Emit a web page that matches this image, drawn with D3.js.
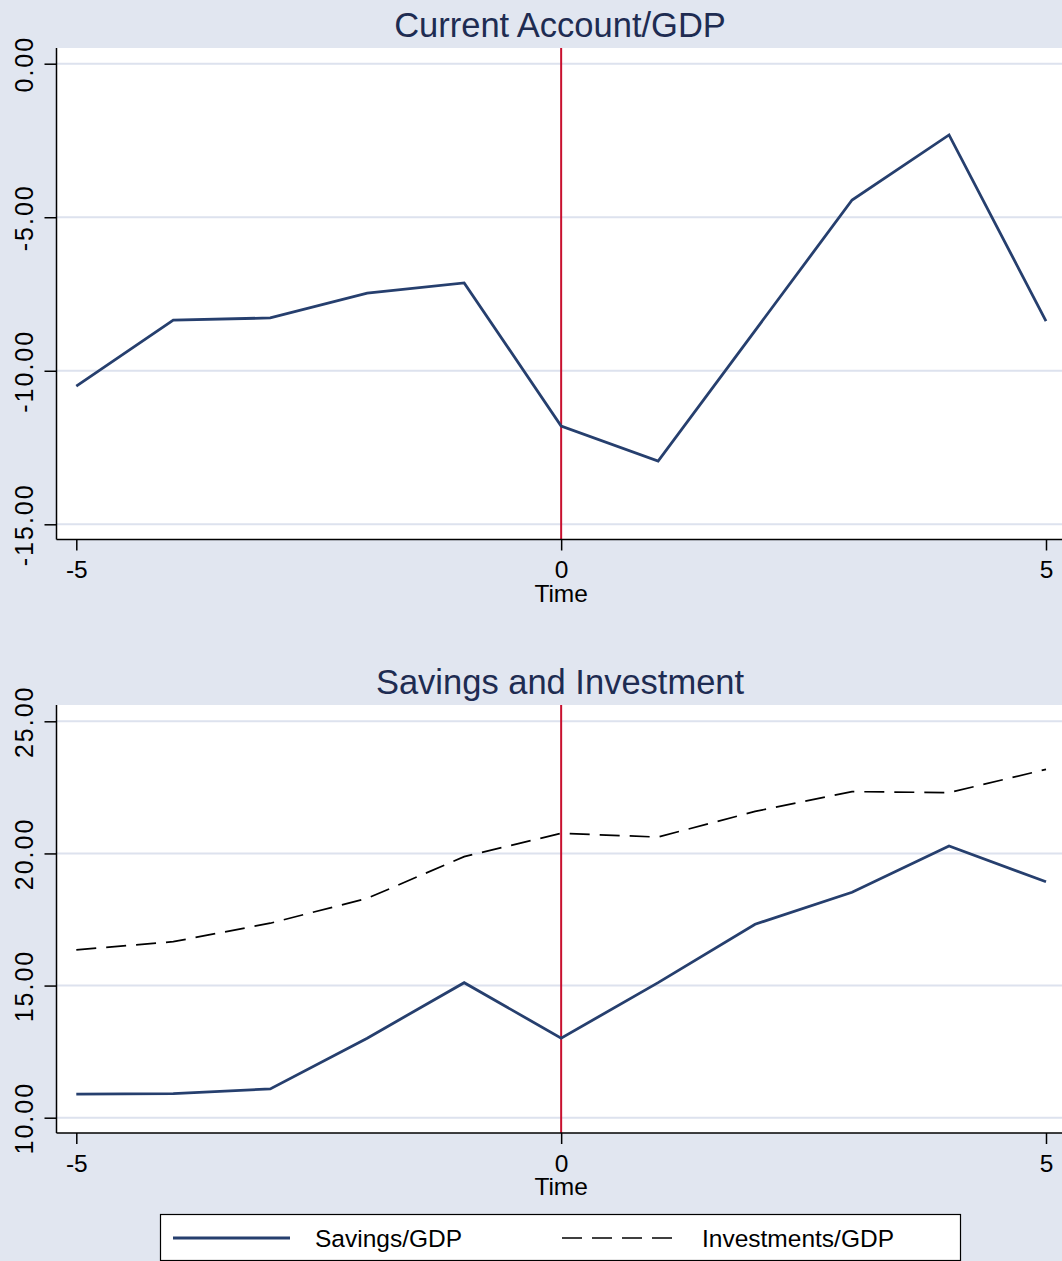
<!DOCTYPE html>
<html><head><meta charset="utf-8">
<script src="https://cdn.jsdelivr.net/npm/d3@7"></script>
<style>
html,body{margin:0;padding:0;background:#e1e6f0;}
svg{display:block;font-family:"Liberation Sans",Arial,sans-serif;}
</style></head>
<body>
<svg id="c" width="1062" height="1261"></svg>
<script>
const time = [-5,-4,-3,-2,-1,0,1,2,3,4,5];
const currentAccount = [-10.50,-8.35,-8.28,-7.47,-7.14,-11.80,-12.94,-8.69,-4.44,-2.32,-8.38];
const savings = [10.89,10.91,11.09,13.01,15.11,13.01,15.11,17.32,18.53,20.28,18.93];
const investments = [16.35,16.66,17.36,18.30,19.88,20.76,20.62,21.59,22.34,22.30,23.18];
const xTicks = [-5,0,5];
const yTicksTop = [0,-5,-10,-15];
const yTicksBottom = [10,15,20,25];
const titles = ["Current Account/GDP","Savings and Investment"];
const legendLabels = ["Savings/GDP","Investments/GDP"];

const svg = d3.select("#c");
const bg = "#e1e6f0", lineCol = "#263f6e", titleCol = "#1e2c52", gridCol = "#dde2ee", red = "#c8102e";
svg.append("rect").attr("width",1062).attr("height",1261).attr("fill",bg);

const x = d3.scaleLinear().domain([-5,5]).range([76.3,1046]);
const fmtY = d => d3.format(".2f")(d).replace("\u2212","-");
const fmtX = d => d3.format("d")(d).replace("\u2212","-");

function panel(opts){
  const {top,bottom,y,yTicks,title,titleY,series} = opts;
  const left = 56.5, right = 1062;
  const g = svg.append("g");
  g.append("rect").attr("x",left).attr("y",top).attr("width",right-left).attr("height",bottom-top).attr("fill","#fff");
  g.selectAll(".grid").data(yTicks).join("line")
    .attr("x1",left).attr("x2",right).attr("y1",d=>y(d)).attr("y2",d=>y(d))
    .attr("stroke",gridCol).attr("stroke-width",2);
  g.append("line").attr("x1",x(0)).attr("x2",x(0)).attr("y1",top).attr("y2",bottom)
    .attr("stroke",red).attr("stroke-width",2);
  series.forEach(s=>{
    const line = d3.line().x((d,i)=>x(time[i])).y(d=>y(d));
    g.append("path").datum(s.values).attr("d",line).attr("fill","none")
      .attr("stroke",s.color).attr("stroke-width",s.width)
      .attr("stroke-dasharray",s.dash||null).attr("stroke-linejoin","miter");
  });
  const ya = d3.axisLeft(y).tickValues(yTicks).tickSize(12).tickFormat(fmtY);
  const yg = g.append("g").attr("transform",`translate(${left},0)`).call(ya);
  yg.select(".domain").attr("d",`M0,${top}V${bottom}`).attr("stroke","#000").attr("stroke-width",1.5);
  yg.selectAll(".tick line").attr("stroke","#000").attr("stroke-width",1.5);
  yg.selectAll(".tick text").attr("x",0).attr("dy",0)
    .attr("transform",`translate(${24-left},0) rotate(-90)`)
    .attr("text-anchor","middle").attr("dominant-baseline","central")
    .attr("font-size",25).attr("letter-spacing","2px").attr("fill","#000")
    .attr("font-family","Liberation Sans, Arial, sans-serif");
  const xa = d3.axisBottom(x).tickValues(xTicks).tickSize(11).tickFormat(fmtX);
  const xg = g.append("g").attr("transform",`translate(0,${bottom})`).call(xa);
  xg.select(".domain").attr("d",`M${left},0H${right}`).attr("stroke","#000").attr("stroke-width",1.5);
  xg.selectAll(".tick line").attr("stroke","#000").attr("stroke-width",1.5);
  xg.selectAll(".tick text").attr("y",38.5).attr("dy",0).attr("font-size",24.5).attr("fill","#000")
    .attr("font-family","Liberation Sans, Arial, sans-serif");
  g.append("text").attr("x",x(0)).attr("y",bottom+62).attr("text-anchor","middle")
    .attr("font-size",24.5).attr("fill","#000").text("Time");
  g.append("text").attr("x",560).attr("y",titleY).attr("text-anchor","middle")
    .attr("font-size",34.5).attr("fill",titleCol).text(title);
}

const yTop = d3.scaleLinear().domain([0,-15]).range([63.7,524.3]);
panel({top:48,bottom:539.5,y:yTop,yTicks:yTicksTop,title:titles[0],titleY:37,
  series:[{values:currentAccount,color:lineCol,width:2.8}]});

const yBot = d3.scaleLinear().domain([25,10]).range([721.3,1117.7]);
panel({top:705,bottom:1133,y:yBot,yTicks:yTicksBottom,title:titles[1],titleY:694,
  series:[{values:investments,color:"#000",width:1.7,dash:"20,10"},
          {values:savings,color:lineCol,width:2.8}]});

const lg = svg.append("g");
lg.append("rect").attr("x",160.5).attr("y",1214.5).attr("width",800).attr("height",46)
  .attr("fill","#fff").attr("stroke","#000").attr("stroke-width",1.2);
const legItems = [
  {label:legendLabels[0],color:lineCol,width:2.8,dash:null,x1:173,x2:290,tx:315},
  {label:legendLabels[1],color:"#000",width:1.7,dash:"20,10",x1:562,x2:678,tx:702}
];
legItems.forEach(it=>{
  lg.append("line").attr("x1",it.x1).attr("x2",it.x2).attr("y1",1238).attr("y2",1238)
    .attr("stroke",it.color).attr("stroke-width",it.width).attr("stroke-dasharray",it.dash);
  lg.append("text").attr("x",it.tx).attr("y",1247).attr("font-size",24.5).attr("fill","#000").text(it.label);
});
</script>
</body></html>
